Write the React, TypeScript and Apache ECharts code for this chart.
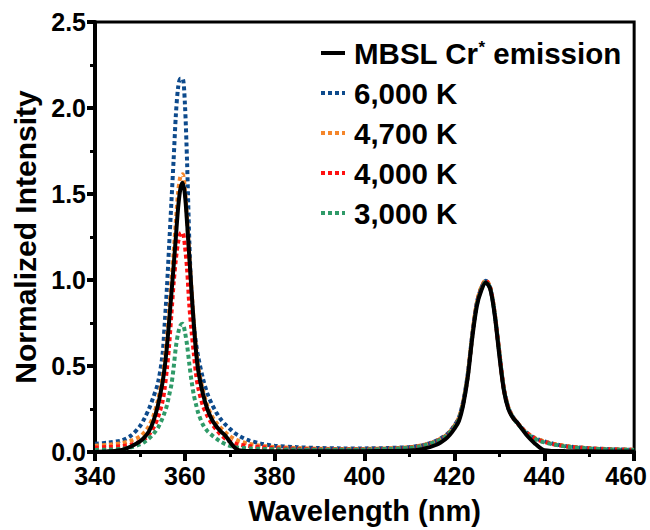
import React, { useEffect, useRef } from "react";
import * as echarts from "echarts";

const FONT = '"Liberation Sans", Arial, Helvetica, sans-serif';

const wavelengths = [
  340, 343, 346, 348, 350, 351, 352, 353, 354, 355, 355.5, 356, 356.5, 357, 357.5, 358, 358.5, 359, 359.5, 360,
  360.5, 361, 361.5, 362, 362.5, 363, 364, 365, 366, 367, 368, 369, 370, 371, 372, 374, 377, 380, 385, 390,
  395, 400, 405, 410, 413, 416, 418, 419, 420, 421, 422, 423, 424, 425, 426, 427, 428, 429, 430, 431,
  432, 433, 434, 435, 436, 437, 438, 439, 440, 442, 445, 450, 455, 460,
];

const seriesNames = ["MBSL Cr* emission", "6,000 K", "4,700 K", "4,000 K", "3,000 K"];

const mbsl = [
  0.0, 0.004, 0.012, 0.032, 0.062, 0.085, 0.12, 0.18, 0.27, 0.4, 0.49, 0.61, 0.76, 0.92, 1.08, 1.25, 1.42, 1.53, 1.565, 1.5,
  1.33, 1.13, 0.93, 0.74, 0.58, 0.47, 0.34, 0.25, 0.19, 0.15, 0.12, 0.095, 0.06, 0.028, 0.01, 0.006, 0.005, 0.004, 0.004, 0.004,
  0.004, 0.005, 0.006, 0.009, 0.018, 0.042, 0.075, 0.1, 0.135, 0.18, 0.28, 0.44, 0.67, 0.85, 0.94, 0.985, 0.945, 0.79, 0.56, 0.36,
  0.25, 0.2, 0.17, 0.135, 0.1, 0.072, 0.047, 0.025, 0.01, 0.006, 0.005, 0.004, 0.003, 0.003,
];

const k6000 = [
  0.048, 0.055, 0.068, 0.095, 0.15, 0.195, 0.25, 0.32, 0.4, 0.56, 0.74, 0.95, 1.2, 1.45, 1.7, 1.96, 2.12, 2.17, 2.17, 2.03,
  1.68, 1.22, 0.9, 0.74, 0.63, 0.55, 0.43, 0.34, 0.28, 0.23, 0.19, 0.16, 0.135, 0.112, 0.095, 0.07, 0.048, 0.036, 0.028, 0.023,
  0.021, 0.021, 0.023, 0.029, 0.04, 0.066, 0.096, 0.12, 0.155, 0.2, 0.3, 0.46, 0.69, 0.87, 0.955, 0.995, 0.95, 0.8, 0.58, 0.37,
  0.26, 0.205, 0.17, 0.14, 0.115, 0.095, 0.08, 0.07, 0.062, 0.048, 0.034, 0.022, 0.016, 0.013,
];

const k4700 = [
  0.036, 0.042, 0.052, 0.066, 0.09, 0.115, 0.15, 0.21, 0.3, 0.43, 0.53, 0.66, 0.82, 0.99, 1.16, 1.34, 1.51, 1.6, 1.615, 1.53,
  1.35, 1.14, 0.94, 0.75, 0.6, 0.49, 0.36, 0.27, 0.21, 0.17, 0.14, 0.115, 0.092, 0.076, 0.064, 0.049, 0.036, 0.029, 0.023, 0.019,
  0.017, 0.018, 0.021, 0.028, 0.04, 0.065, 0.094, 0.118, 0.152, 0.2, 0.3, 0.46, 0.69, 0.87, 0.96, 1.0, 0.955, 0.8, 0.58, 0.37,
  0.26, 0.205, 0.17, 0.14, 0.115, 0.095, 0.08, 0.07, 0.062, 0.048, 0.034, 0.022, 0.016, 0.013,
];

const k4000 = [
  0.026, 0.029, 0.034, 0.043, 0.06, 0.075, 0.1, 0.14, 0.2, 0.29, 0.37, 0.48, 0.62, 0.8, 0.98, 1.12, 1.22, 1.27, 1.275, 1.2,
  1.06, 0.85, 0.7, 0.57, 0.45, 0.37, 0.27, 0.21, 0.165, 0.13, 0.1, 0.078, 0.062, 0.051, 0.043, 0.035, 0.028, 0.022, 0.018, 0.015,
  0.014, 0.015, 0.018, 0.025, 0.038, 0.063, 0.092, 0.116, 0.15, 0.195, 0.29, 0.45, 0.68, 0.865, 0.955, 0.995, 0.95, 0.795, 0.575, 0.365,
  0.255, 0.2, 0.168, 0.138, 0.112, 0.092, 0.077, 0.066, 0.058, 0.045, 0.032, 0.021, 0.015, 0.012,
];

const k3000 = [
  0.012, 0.014, 0.018, 0.027, 0.044, 0.058, 0.078, 0.105, 0.14, 0.195, 0.23, 0.27, 0.33, 0.39, 0.49, 0.61, 0.69, 0.735, 0.745, 0.7,
  0.62, 0.51, 0.41, 0.33, 0.275, 0.225, 0.16, 0.122, 0.098, 0.078, 0.06, 0.046, 0.036, 0.029, 0.025, 0.021, 0.018, 0.016, 0.014, 0.013,
  0.013, 0.014, 0.017, 0.024, 0.037, 0.062, 0.09, 0.114, 0.148, 0.193, 0.29, 0.45, 0.68, 0.86, 0.95, 0.99, 0.948, 0.795, 0.575, 0.365,
  0.255, 0.2, 0.166, 0.136, 0.11, 0.09, 0.075, 0.064, 0.056, 0.044, 0.031, 0.02, 0.015, 0.012,
];

const xTicks = [340, 360, 380, 400, 420, 440, 460];
const yTicks = [0, 0.5, 1.0, 1.5, 2.0, 2.5];

const colors = {
  mbsl: "#000000",
  k6000: "#0d4a8c",
  k4700: "#f5862a",
  k4000: "#ff1010",
  k3000: "#2f9a68",
};

const pairs = (vals: number[]) => wavelengths.map((w, i) => [w, vals[i]]);

export default function App() {
  const ref = useRef<HTMLDivElement>(null);

  useEffect(() => {
    if (!ref.current) return;
    const chart = echarts.init(ref.current, undefined, { renderer: "svg" });

    const dotted = (name: string, vals: number[], color: string) => ({
      name,
      type: "line",
      data: pairs(vals),
      smooth: 0.3,
      symbol: "none",
      showSymbol: false,
      lineStyle: { color, width: 4, type: [4, 3], cap: "butt" },
      itemStyle: { color },
    });

    chart.setOption({
      animation: false,
      backgroundColor: "#ffffff",
      grid: {
        left: 95,
        right: 15,
        top: 22,
        bottom: 75,
        show: true,
        borderColor: "#000",
        borderWidth: 3,
        containLabel: false,
      },
      legend: {
        orient: "vertical",
        left: 319,
        top: 38,
        padding: 0,
        itemWidth: 24,
        itemHeight: 14,
        itemGap: 10,
        selectedMode: false,
        data: seriesNames,
        lineStyle: { width: 4 },
        itemStyle: { opacity: 0, borderWidth: 0 },
        formatter: (name: string) => (name === seriesNames[0] ? "MBSL Cr{sup|*} emission" : name),
        textStyle: {
          fontFamily: FONT,
          fontWeight: "bold",
          fontSize: 29.5,
          lineHeight: 29,
          color: "#000",
          padding: [0, 0, 0, 4],
          rich: {
            sup: {
              fontFamily: FONT,
              fontWeight: "bold",
              fontSize: 17,
              lineHeight: 14,
              color: "#000",
              verticalAlign: "top",
            },
          },
        },
      },
      xAxis: {
        type: "value",
        min: xTicks[0],
        max: xTicks[xTicks.length - 1],
        interval: 20,
        name: "Wavelength (nm)",
        nameLocation: "middle",
        nameGap: 44,
        nameTextStyle: { fontFamily: FONT, fontWeight: "bold", fontSize: 29, color: "#000" },
        axisLine: { show: true, lineStyle: { color: "#000", width: 4 } },
        axisTick: { show: true, length: 9, lineStyle: { color: "#000", width: 4 } },
        minorTick: { show: true, splitNumber: 2, length: 5, lineStyle: { color: "#000", width: 3 } },
        splitLine: { show: false },
        axisLabel: {
          margin: 11,
          fontFamily: FONT,
          fontWeight: "bold",
          fontSize: 25,
          color: "#000",
          formatter: (v: number) => (v === xTicks[xTicks.length - 1] ? `{last|${v}}` : String(v)),
          rich: {
            last: {
              fontFamily: FONT,
              fontWeight: "bold",
              fontSize: 25,
              color: "#000",
              padding: [0, 16, 0, 0],
            },
          },
        },
      },
      yAxis: {
        type: "value",
        min: yTicks[0],
        max: yTicks[yTicks.length - 1],
        interval: 0.5,
        name: "Normalized Intensity",
        nameLocation: "middle",
        nameGap: 52,
        nameRotate: 90,
        nameTextStyle: { fontFamily: FONT, fontWeight: "bold", fontSize: 30, color: "#000" },
        axisLine: { show: true, lineStyle: { color: "#000", width: 4 } },
        axisTick: { show: true, length: 8, lineStyle: { color: "#000", width: 4 } },
        minorTick: { show: true, splitNumber: 2, length: 5, lineStyle: { color: "#000", width: 3 } },
        splitLine: { show: false },
        axisLabel: {
          margin: 9,
          fontFamily: FONT,
          fontWeight: "bold",
          fontSize: 25,
          color: "#000",
          formatter: (v: number) => v.toFixed(1),
        },
      },
      series: [
        dotted(seriesNames[1], k6000, colors.k6000),
        dotted(seriesNames[2], k4700, colors.k4700),
        dotted(seriesNames[3], k4000, colors.k4000),
        dotted(seriesNames[4], k3000, colors.k3000),
        {
          name: seriesNames[0],
          type: "line",
          data: pairs(mbsl),
          smooth: 0.3,
          symbol: "none",
          showSymbol: false,
          lineStyle: { color: colors.mbsl, width: 4 },
          itemStyle: { color: colors.mbsl },
        },
      ],
    });

    return () => chart.dispose();
  }, []);

  return (
    <div
      ref={ref}
      style={{ position: "fixed", left: 0, top: 0, width: 650, height: 530, background: "#fff" }}
    />
  );
}
